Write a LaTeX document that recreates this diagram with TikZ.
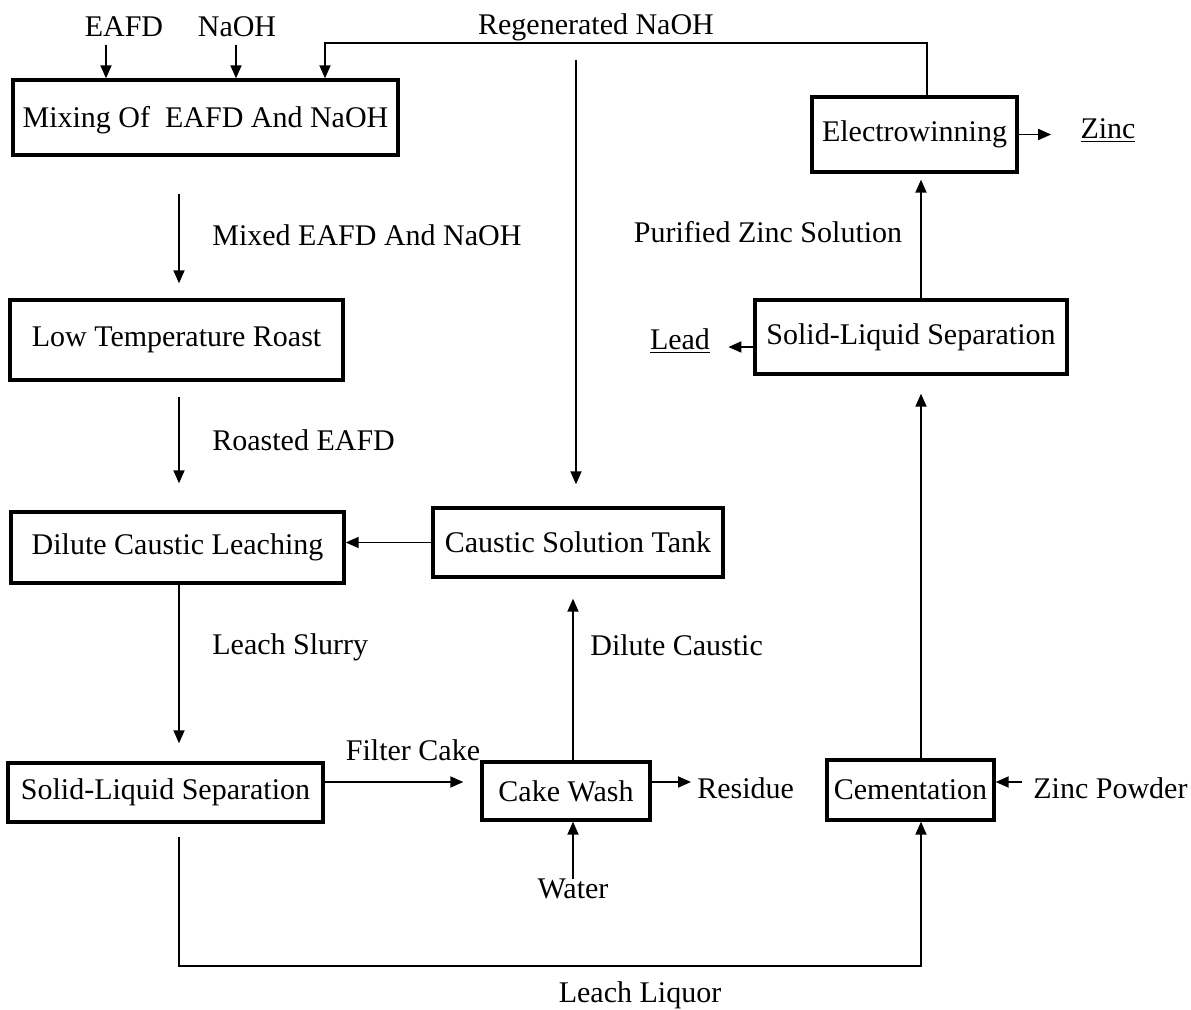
\documentclass[tikz,border=0pt]{standalone}
\usepackage{fontspec}
\setmainfont{Liberation Serif}
\usetikzlibrary{arrows.meta,calc}

\begin{document}
\begin{tikzpicture}[x=0.5pt,y=-0.5pt,
  box/.style={draw,line width=1.7pt,inner sep=0pt,font=\fontsize{15}{18}\selectfont},
  lbl/.style={inner sep=0pt,font=\fontsize{15}{18}\selectfont},
  flow/.style={-{Triangle[length=6.5pt,width=5.5pt]},line width=0.9pt}]
  \fill[white] (0,0) rectangle (1191,1010);
  \useasboundingbox (0,0) rectangle (1191,1010);

  % process units
  \node[box,minimum width=192.5pt,minimum height=37.5pt,text height=1.05em,text depth=0pt] (mix) at (205.5,117.5) {Mixing Of\ \ EAFD And NaOH};
  \node[box,minimum width=166.5pt,minimum height=40pt] (roast) at (176.5,340) {Low Temperature Roast};
  \node[box,minimum width=166.5pt,minimum height=35.5pt] (leach) at (177.5,547.5) {Dilute Caustic Leaching};
  \node[box,minimum width=157.5pt,minimum height=29.5pt] (sep1) at (165.5,792.5) {Solid-Liquid Separation};
  \node[box,minimum width=145pt,minimum height=34.5pt] (tank) at (578,542.5) {Caustic Solution Tank};
  \node[box,minimum width=84pt,minimum height=29pt] (wash) at (566,791) {Cake Wash};
  \node[box,minimum width=83.5pt,minimum height=30pt] (cement) at (910.5,790) {Cementation};
  \node[box,minimum width=156pt,minimum height=37pt] (sep2) at (911,337) {Solid-Liquid Separation};
  \node[box,minimum width=102.5pt,minimum height=37.5pt] (ew) at (914.5,134.5) {Electrowinning};

  % stream labels
  \node[lbl] (eafd) at (124,27) {EAFD};
  \node[lbl] (naoh) at (237,27) {NaOH};
  \node[lbl] (regen) at (596,27) {Regenerated NaOH};
  \node[lbl,anchor=west] (mixed) at (212,235) {Mixed EAFD And NaOH};
  \node[lbl,anchor=west] (roasted) at (212,440) {Roasted EAFD};
  \node[lbl,anchor=west] (slurry) at (212,647) {Leach Slurry};
  \node[lbl] (cake) at (413,750) {Filter Cake};
  \node[lbl,anchor=west] (residue) at (697,788) {Residue};
  \node[lbl] (water) at (573,889) {Water};
  \node[lbl] (liquor) at (640,995) {Leach Liquor};
  \node[lbl,anchor=west] (dil) at (590,645) {Dilute Caustic};
  \node[lbl] (pur) at (768,232) {Purified Zinc Solution};
  \node[lbl] (lead) at (680,341) {\underline{Lead}};
  \node[lbl] (zinc) at (1108,131) {\underline{Zinc}};
  \node[lbl,anchor=west] (zp) at (1033,788) {Zinc Powder};

  % main line, left column
  \coordinate (lc) at (179,0);
  \draw[flow,shorten <=18.5pt,shorten >=7.5pt] (lc |- mix.south) -- (lc |- roast.north);
  \draw[flow,shorten <=7.5pt,shorten >=13.5pt] (lc |- roast.south) -- (lc |- leach.north);
  \draw[flow,shorten >=9pt] (lc |- leach.south) -- (lc |- sep1.north);

  % leach liquor to cementation
  \coordinate (lq) at (921,966);
  \draw[flow,shorten <=6.5pt] (lc |- sep1.south) |- (lq) -- (lq |- cement.south);

  % feeds to the mixer
  \coordinate (inA) at (106,45);
  \coordinate (inB) at (236,45);
  \draw[flow] (inA) -- (inA |- mix.north);
  \draw[flow] (inB) -- (inB |- mix.north);

  % NaOH back from electrowinning
  \coordinate (ret) at (927,43);
  \coordinate (retin) at (325,43);
  \draw[flow] (ret |- ew.north) -- (ret) -- (retin) -- (retin |- mix.north);
  \coordinate (rd) at (576,60);
  \draw[flow,shorten >=11pt] (rd) -- (rd |- tank.north);

  % caustic wash loop
  \draw[flow] (tank.west) -- (tank.west -| leach.east);
  \coordinate (dc) at (573,0);
  \draw[flow,shorten >=10pt] (dc |- wash.north) -- (dc |- tank.south);
  \draw[flow] (water.north) -- (water.north |- wash.south);
  \coordinate (fc) at (0,782);
  \draw[flow,shorten >=8.5pt] (fc -| sep1.east) -- (fc -| wash.west);
  \draw[flow,shorten >=3pt] (fc -| wash.east) -- (fc -| residue.west);

  % zinc recovery, right column
  \draw[flow,shorten <=5.5pt] (fc -| zp.west) -- (fc -| cement.east);
  \coordinate (cc) at (921,0);
  \draw[flow,shorten >=9pt] (cc |- cement.north) -- (cc |- sep2.south);
  \draw[flow,shorten >=3pt] (cc |- sep2.north) -- (cc |- ew.south);
  \coordinate (ly) at (0,347);
  \draw[flow,shorten >=9pt] (ly -| sep2.west) -- (ly -| lead.east);
  \draw[flow,shorten >=14.5pt] (ew.east) -- (ew.east -| zinc.west);
\end{tikzpicture}
\end{document}
